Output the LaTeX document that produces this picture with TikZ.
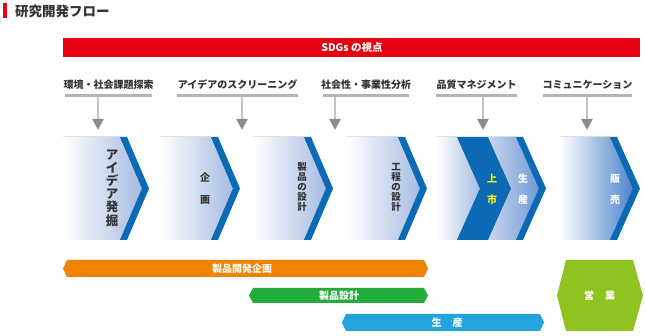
\documentclass[tikz,border=0pt]{standalone}
\usepackage{fontspec}
\setmainfont{Noto Sans CJK JP}
\usetikzlibrary{arrows.meta,calc}
\definecolor{sdgred}{HTML}{E60012}
\definecolor{txtdark}{HTML}{333333}
\definecolor{ulgray}{HTML}{B4B4B4}
\definecolor{arrline}{HTML}{C4C4C4}
\definecolor{arrhead}{HTML}{8C8C8C}
\definecolor{chevlight}{HTML}{A6BCE2}
\definecolor{chevmid}{HTML}{6F9AD6}
\definecolor{chevdeep}{HTML}{4C84CC}
\definecolor{stripeblue}{HTML}{0A6AB6}
\definecolor{barorange}{HTML}{F08300}
\definecolor{bargreen}{HTML}{22AC38}
\definecolor{barblue}{HTML}{24A3DD}
\definecolor{barlime}{HTML}{8FC31F}
\definecolor{txtyellow}{HTML}{FFF100}
\tikzset{
  labeltext/.style={font=\fontsize{10}{12}\selectfont\bfseries, text=txtdark, inner sep=0pt},
  underline/.style={ulgray, line width=3pt},
  downarrow/.style={arrline, line width=2pt, -{Triangle[width=11pt,length=11pt,color=arrhead]}},
  stripe/.style={fill=stripeblue},
  vtext/.style={align=center, inner sep=0pt, text=txtdark, font=\fontsize{9.5}{10}\selectfont\bfseries},
  bartext/.style={text=white, inner sep=0pt, font=\fontsize{10}{12}\selectfont\bfseries},
}
\begin{document}
\begin{tikzpicture}[x=1pt,y=-1pt]
\useasboundingbox[fill=white] (0,0) rectangle (645,336);
% title
\fill[sdgred] (3,3) rectangle (7,18);
\node[anchor=west, inner sep=0pt, text=txtdark, font=\fontsize{13.5}{15}\selectfont\bfseries] (title) at (15,11) {研究開発フロー};
% SDGs bar
\fill[sdgred] (63,38) rectangle (640,57);
\node[text=white, inner sep=0pt, font=\fontsize{10.5}{12}\selectfont\bfseries] (sdgs) at (352,47.5) {SDGs の視点};
% labels
\node[labeltext] (l1) at (108.5,85) {環境・社会課題探索};
\node[labeltext] (l2) at (237.5,85) {アイデアのスクリーニング};
\node[labeltext] (l3) at (366,85) {社会性・事業性分析};
\node[labeltext] (l4) at (476.5,85) {品質マネジメント};
\node[labeltext] (l5) at (587.5,85) {コミュニケーション};
\draw[underline] (65,95.5) -- (152,95.5);
\draw[underline] (177,95.5) -- (298,95.5);
\draw[underline] (323,95.5) -- (409,95.5);
\draw[underline] (436,95.5) -- (517,95.5);
\draw[underline] (543,95.5) -- (632,95.5);
\foreach \i/\x in {1/98,2/242,3/335,4/483,5/587}{
  \coordinate (u\i) at (\x,97);
  \coordinate (a\i) at (\x,130);
  \draw[downarrow] (u\i) -- (a\i);
}
% chevrons 1-4
\foreach \l/\s in {63/120,160/211,253/304,347/398}{
  \fill[left color=white, right color=chevlight] (\l,137) -- (\s,137) -- ++(22,51.5) -- ++(-22,51.5) -- (\l,240) -- cycle;
  \fill[stripe] (\s,137) -- ++(7,0) -- ++(22,51.5) -- ++(-22,51.5) -- ++(-7,0) -- ++(22,-51.5) -- cycle;
}
% chevron 5 (上市 / 生産)
\fill[left color=white, right color=chevlight] (437,137) -- (457,137) -- ++(23,51.5) -- ++(-23,51.5) -- (437,240) -- cycle;
\fill[stripeblue] (457,137) -- (488,137) -- ++(23,51.5) -- ++(-23,51.5) -- (457,240) -- ++(23,-51.5) -- cycle;
\fill[left color=chevlight!60!white, right color=chevmid] (488,137) -- (516,137) -- ++(23,51.5) -- ++(-23,51.5) -- (488,240) -- ++(23,-51.5) -- cycle;
\fill[stripe] (516,137) -- ++(7,0) -- ++(23,51.5) -- ++(-23,51.5) -- ++(-7,0) -- ++(23,-51.5) -- cycle;
% chevron 6 (販売)
\fill[left color=white, right color=chevdeep] (560,137) -- (610,137) -- ++(23,51.5) -- ++(-23,51.5) -- (560,240) -- cycle;
\fill[stripe] (610,137) -- ++(7,0) -- ++(23,51.5) -- ++(-23,51.5) -- ++(-7,0) -- ++(23,-51.5) -- cycle;
% chevron texts
\node[vtext, font=\fontsize{12.5}{13.2}\selectfont\bfseries] (c1) at (112,188) {ア\\イ\\デ\\ア\\発\\掘};
\node[vtext, font=\fontsize{10}{22}\selectfont\bfseries] (c2) at (205,189) {企\\画};
\node[vtext] (c3) at (302,187) {製\\品\\の\\設\\計};
\node[vtext] (c4) at (396,187) {工\\程\\の\\設\\計};
\node[vtext, text=txtyellow, font=\fontsize{10}{21}\selectfont\bfseries] (c5a) at (492,189.5) {上\\市};
\node[vtext, text=white, font=\fontsize{10}{21}\selectfont\bfseries] (c5b) at (523,189.5) {生\\産};
\node[vtext, text=white, font=\fontsize{10}{21}\selectfont\bfseries] (c6) at (615,189.5) {販\\売};
% bottom bars
\fill[barorange] (63,268.5) -- (67,260) -- (424,260) -- (428,268.5) -- (424,277) -- (67,277) -- cycle;
\node[bartext] (b1) at (242,268.5) {製品開発企画};
\fill[bargreen] (249,295.5) -- (253,288) -- (424,288) -- (428,295.5) -- (424,303) -- (253,303) -- cycle;
\node[bartext] (b2) at (339,295.5) {製品設計};
\fill[barblue] (342,322.5) -- (346,314) -- (540,314) -- (544,322.5) -- (540,331) -- (346,331) -- cycle;
\node[bartext] (b3) at (447,322.5) {生\hspace{11pt}産};
\fill[barlime] (557,295.5) -- (566,260) -- (633,260) -- (643,295.5) -- (633,331) -- (566,331) -- cycle;
\node[bartext] (b4) at (599.5,295.5) {営\hspace{11pt}業};
\end{tikzpicture}
\end{document}
